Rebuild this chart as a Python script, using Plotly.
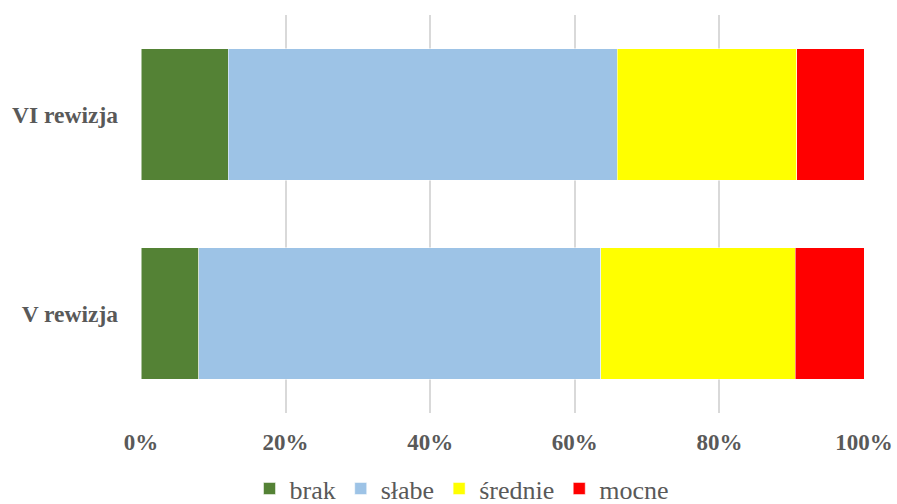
import plotly.graph_objects as go

categories = ['V rewizja', 'VI rewizja']
brak = [0.080, 0.121]
slabe = [0.556, 0.538]
srednie = [0.269, 0.248]
mocne = [0.095, 0.093]
xticks = [0, 0.2, 0.4, 0.6, 0.8, 1.0]
xticklabels = ['0%', '20%', '40%', '60%', '80%', '100%']

series = [
    ('brak', brak, '#548235'),
    ('słabe', slabe, '#9DC3E6'),
    ('średnie', srednie, '#FFFF00'),
    ('mocne', mocne, '#FF0000'),
]

SERIF = '"Liberation Serif", "Times New Roman", serif'

fig = go.Figure()
for name, vals, col in series:
    fig.add_trace(go.Bar(
        y=categories, x=vals, name=name, orientation='h',
        marker=dict(color=col, line=dict(color='white', width=0.5)),
    ))

fig.update_layout(
    barmode='stack',
    bargap=0.34,
    width=897, height=504,
    margin=dict(l=141, r=33, t=15, b=91, autoexpand=False),
    paper_bgcolor='white', plot_bgcolor='white',
    font=dict(family=SERIF, color='#595959'),
    legend=dict(orientation='h', x=0.444, xanchor='center', y=-0.19, yanchor='middle',
                font=dict(family=SERIF, size=26, color='#595959'),
                traceorder='normal', itemwidth=30),
    showlegend=True,
)
fig.update_xaxes(range=[0, 1], tickvals=xticks,
                 ticktext=['<b>' + t + '</b>' for t in xticklabels],
                 showgrid=True, gridcolor='#D9D9D9', gridwidth=1.5, zeroline=False,
                 tickfont=dict(size=23, color='#595959', family=SERIF),
                 ticklabelstandoff=13, automargin=False)
fig.update_yaxes(showgrid=False, showline=False, tickvals=categories,
                 ticktext=['<b>' + c + '</b>' for c in categories],
                 tickfont=dict(size=23.5, color='#595959', family=SERIF),
                 ticklabelstandoff=22, automargin=False)

# page body has an 8px default margin; remove it so the figure fills the window
fig.write_html('out.html', config={'displayModeBar': False},
               post_script="document.body.style.margin='0';")
